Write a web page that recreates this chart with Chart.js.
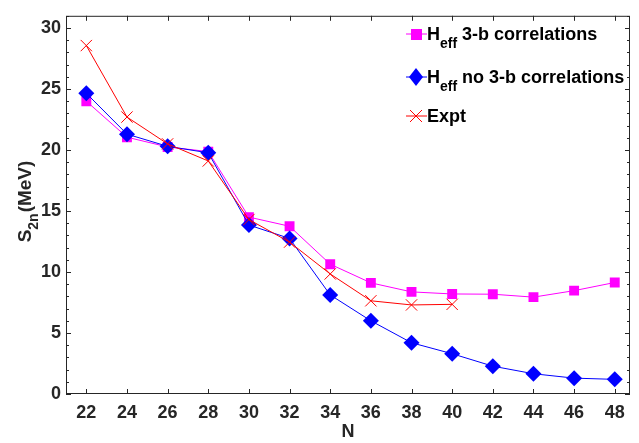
<!DOCTYPE html>
<html>
<head>
<meta charset="utf-8">
<script src="https://cdn.jsdelivr.net/npm/chart.js@4/dist/chart.umd.min.js"></script>
<style>
  html, body { margin: 0; padding: 0; background: #fff; }
  #wrap { width: 639px; height: 443px; }
</style>
</head>
<body>
<div id="wrap"><canvas id="s2nChart" width="639" height="443"></canvas></div>
<script>
// neutron number N
const nValues = [22, 24, 26, 28, 30, 32, 34, 36, 38, 40, 42, 44, 46, 48];
// S2n (MeV)
const with3b = [24.0, 21.05, 20.25, 19.87, 14.5, 13.75, 10.64, 9.11, 8.37, 8.2, 8.18, 7.94, 8.47, 9.14];
const no3b = [24.65, 21.3, 20.3, 19.77, 13.85, 12.75, 8.12, 6.0, 4.2, 3.3, 2.28, 1.66, 1.3, 1.2];
const expt = [28.56, 22.7, 20.5, 19.1, 14.3, 12.45, 9.84, 7.64, 7.3, 7.35];

const xTicks = [22, 24, 26, 28, 30, 32, 34, 36, 38, 40, 42, 44, 46, 48];
const yTicks = [0, 5, 10, 15, 20, 25, 30];

const axisColor = "#262626";
const fontFam = "'Liberation Sans', Arial, Helvetica, sans-serif";

const toPoints = (ys) => ys.map((y, i) => ({ x: nValues[i], y: y }));

// inward ticks on all four sides + box
const frameTicks = {
  id: "frameTicks",
  afterDatasetsDraw(chart) {
    const { ctx, chartArea: a, scales } = chart;
    const x = scales.x, y = scales.y;
    ctx.save();
    ctx.strokeStyle = axisColor;
    ctx.lineWidth = 1;
    ctx.strokeRect(a.left + 0.5, a.top + 0.5, a.right - a.left - 1, a.bottom - a.top - 1);
    ctx.beginPath();
    xTicks.forEach(v => {
      const px = Math.round(x.getPixelForValue(v)) + 0.5;
      ctx.moveTo(px, a.bottom); ctx.lineTo(px, a.bottom - 5);
      ctx.moveTo(px, a.top); ctx.lineTo(px, a.top + 5);
    });
    for (let v = 0; v <= 31; v++) {
      const py = Math.round(y.getPixelForValue(v)) + 0.5;
      const len = v % 5 === 0 ? 5 : 3;
      ctx.moveTo(a.left, py); ctx.lineTo(a.left + len, py);
      ctx.moveTo(a.right, py); ctx.lineTo(a.right - len, py);
    }
    ctx.stroke();
    ctx.restore();
  }
};

// y title with subscript and legend with subscripts
const textBits = {
  id: "textBits",
  afterDraw(chart) {
    const { ctx, chartArea: a } = chart;
    ctx.save();
    // y axis title
    ctx.translate(31, 202);
    ctx.rotate(-Math.PI / 2);
    ctx.fillStyle = axisColor;
    ctx.textBaseline = "alphabetic";
    ctx.textAlign = "left";
    const big = "bold 19px " + fontFam;
    const small = "bold 14px " + fontFam;
    ctx.font = big;
    const wS = ctx.measureText("S").width;
    ctx.font = small;
    const w2n = ctx.measureText("2n").width;
    ctx.font = big;
    const wRest = ctx.measureText("(MeV)").width;
    let sx = -(wS + w2n + wRest) / 2;
    ctx.fillText("S", sx, 0);
    ctx.font = small;
    ctx.fillText("2n", sx + wS, 7);
    ctx.font = big;
    ctx.fillText("(MeV)", sx + wS + w2n + 1, 0);
    ctx.restore();

    // legend
    const items = [
      { color: "#ff00ff", style: "square", y: 34, sub: "eff", text: " 3-b correlations" },
      { color: "#0000ff", style: "diamond", y: 77, sub: "eff", text: " no 3-b correlations" },
      { color: "#ff0000", style: "cross", y: 116, sub: null, text: "Expt" }
    ];
    const mx = 416;
    items.forEach(it => {
      ctx.save();
      ctx.strokeStyle = it.color;
      ctx.fillStyle = it.color;
      ctx.lineWidth = 1;
      ctx.beginPath();
      ctx.moveTo(406, it.y); ctx.lineTo(427, it.y);
      ctx.stroke();
      if (it.style === "square") {
        ctx.fillRect(mx - 5, it.y - 5, 11, 11);
      } else if (it.style === "diamond") {
        ctx.beginPath();
        ctx.moveTo(mx, it.y - 9); ctx.lineTo(mx + 7, it.y);
        ctx.lineTo(mx, it.y + 9); ctx.lineTo(mx - 7, it.y);
        ctx.closePath(); ctx.fill();
      } else {
        ctx.beginPath();
        ctx.moveTo(mx - 6, it.y - 6); ctx.lineTo(mx + 6, it.y + 6);
        ctx.moveTo(mx + 6, it.y - 6); ctx.lineTo(mx - 6, it.y + 6);
        ctx.stroke();
      }
      ctx.fillStyle = "#000";
      ctx.textAlign = "left";
      ctx.textBaseline = "alphabetic";
      let tx = 427;
      const base = it.y + 6;
      if (it.sub) {
        ctx.font = "bold 18px " + fontFam;
        ctx.fillText("H", tx, base);
        tx += ctx.measureText("H").width;
        ctx.font = "bold 14px " + fontFam;
        ctx.fillText(it.sub, tx, base + 8);
        tx += ctx.measureText(it.sub).width;
      }
      ctx.font = "bold 18px " + fontFam;
      ctx.fillText(it.text, tx, base);
      ctx.restore();
    });
  }
};

new Chart(document.getElementById("s2nChart"), {
  type: "line",
  data: {
    datasets: [
      {
        label: "Heff 3-b correlations",
        data: toPoints(with3b),
        borderColor: "#ff00ff",
        backgroundColor: "#ff00ff",
        borderWidth: 1,
        pointStyle: "rect",
        pointRadius: 7,
        pointHoverRadius: 7,
        pointBorderWidth: 0,
        order: 2
      },
      {
        label: "Heff no 3-b correlations",
        data: toPoints(no3b),
        borderColor: "#0000ff",
        backgroundColor: "#0000ff",
        borderWidth: 1,
        pointStyle: "rectRot",
        pointRadius: 8,
        pointHoverRadius: 8,
        pointBorderWidth: 0,
        order: 1
      },
      {
        label: "Expt",
        data: toPoints(expt),
        borderColor: "#ff0000",
        backgroundColor: "#ff0000",
        borderWidth: 1,
        pointStyle: "crossRot",
        pointRadius: 8,
        pointHoverRadius: 8,
        pointBorderWidth: 1,
        order: 0
      }
    ]
  },
  options: {
    responsive: false,
    animation: false,
    layout: { padding: { left: 0, right: 2, top: 9, bottom: 0 } },
    plugins: {
      legend: { display: false },
      tooltip: { enabled: false }
    },
    scales: {
      x: {
        type: "linear",
        min: 21,
        max: 48.75,
        afterBuildTicks: (s) => { s.ticks = xTicks.map(v => ({ value: v })); },
        afterFit: (s) => { s.height = 49; },
        grid: { display: false, drawTicks: false },
        border: { display: false },
        ticks: {
          padding: 8,
          color: axisColor,
          font: { family: fontFam, size: 18, weight: "bold" },
          maxRotation: 0,
          autoSkip: false
        },
        title: {
          display: true,
          text: "N",
          color: axisColor,
          padding: { top: 1, bottom: 0 },
          font: { family: fontFam, size: 18, weight: "bold" }
        }
      },
      y: {
        type: "linear",
        min: 0,
        max: 31,
        afterBuildTicks: (s) => { s.ticks = yTicks.map(v => ({ value: v })); },
        afterFit: (s) => { s.width = 66; },
        grid: { display: false, drawTicks: false },
        border: { display: false },
        ticks: {
          padding: 5,
          color: axisColor,
          font: { family: fontFam, size: 18, weight: "bold" }
        }
      }
    }
  },
  plugins: [frameTicks, textBits]
});
</script>
</body>
</html>
